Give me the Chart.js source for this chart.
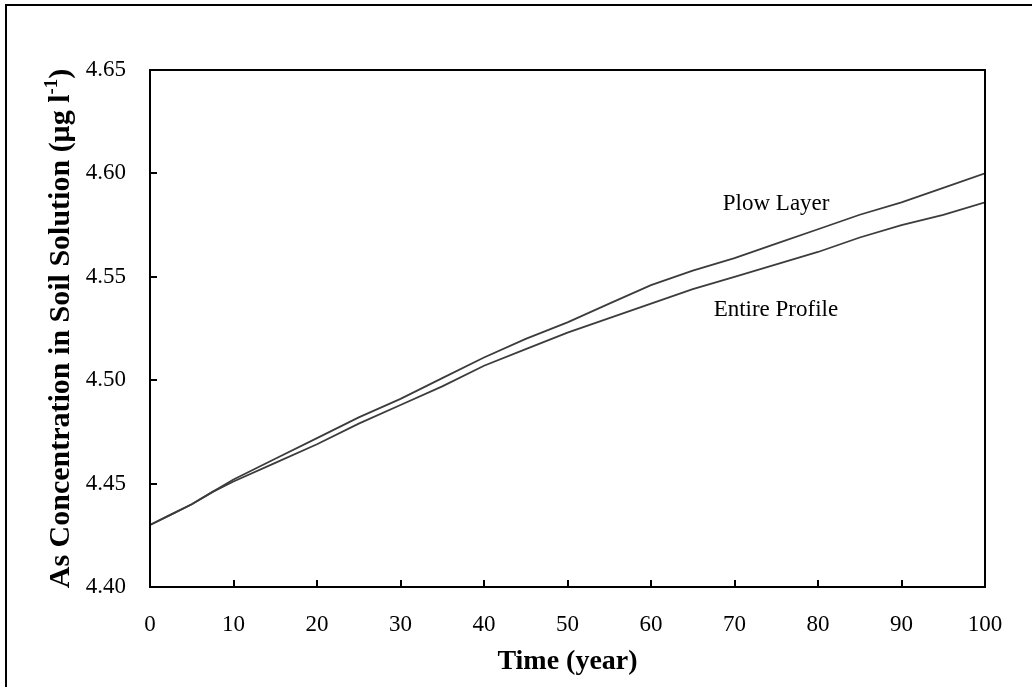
<!DOCTYPE html>
<html>
<head>
<meta charset="utf-8">
<script src="https://cdn.jsdelivr.net/npm/chart.js@4.4.1/dist/chart.umd.min.js"></script>
<style>
body { margin: 0; background: #fff; }
canvas { display: block; }
</style>
</head>
<body>
<canvas id="chart-wrapper" width="1032" height="687"></canvas>
<script>
// values
const years = [0, 2.5, 5, 7.5, 10, 15, 20, 25, 30, 35, 40, 45, 50, 55, 60, 65, 70, 75, 80, 85, 90, 95, 100];
const plowLayer = [4.430, 4.435, 4.440, 4.446, 4.452, 4.462, 4.472, 4.482, 4.491, 4.501, 4.511, 4.520, 4.528, 4.537, 4.546, 4.553, 4.559, 4.566, 4.573, 4.580, 4.586, 4.593, 4.600];
const entireProfile = [4.430, 4.435, 4.440, 4.446, 4.451, 4.460, 4.469, 4.479, 4.488, 4.497, 4.507, 4.515, 4.523, 4.530, 4.537, 4.544, 4.550, 4.556, 4.562, 4.569, 4.575, 4.580, 4.586];
const xTicks = [0, 10, 20, 30, 40, 50, 60, 70, 80, 90, 100];
const yTicks = [4.40, 4.45, 4.50, 4.55, 4.60, 4.65];
const seriesNames = ['Plow Layer', 'Entire Profile'];

// where the two curve labels sit (data coords)
const labelSpots = [
    { text: seriesNames[0], x: 68.6, y: 4.5823 },
    { text: seriesNames[1], x: 67.5, y: 4.531 }
];

Chart.defaults.font.family = 'Liberation Serif';
Chart.defaults.color = '#000';

const frame = {
    id: 'frame',
    beforeDraw: (chart) => {
        const { ctx } = chart;
        ctx.save();
        ctx.fillStyle = '#fff';
        ctx.fillRect(0, 0, chart.width, chart.height);
        ctx.restore();
    },
    afterDraw: (chart) => {
        const { ctx, chartArea: a, scales } = chart;
        const x = scales.x, y = scales.y;
        ctx.save();
        ctx.strokeStyle = '#000';
        ctx.lineWidth = 2;

        // plot box + inward ticks
        ctx.strokeRect(a.left, a.top, a.right - a.left, a.bottom - a.top);
        ctx.beginPath();
        xTicks.forEach(v => {
            const px = Math.round(x.getPixelForValue(v));
            ctx.moveTo(px, a.bottom);
            ctx.lineTo(px, a.bottom - 7);
        });
        yTicks.forEach(v => {
            const py = Math.round(y.getPixelForValue(v));
            ctx.moveTo(a.left, py);
            ctx.lineTo(a.left + 7, py);
        });
        ctx.stroke();

        // outer frame
        ctx.strokeRect(6, 5, 1200, 1000);

        // curve labels
        ctx.fillStyle = '#000';
        ctx.font = '23px "Liberation Serif"';
        ctx.textAlign = 'left';
        ctx.textBaseline = 'alphabetic';
        labelSpots.forEach(l => {
            ctx.fillText(l.text, x.getPixelForValue(l.x), y.getPixelForValue(l.y));
        });

        // y title with superscript
        const big = 'bold 30px "Liberation Serif"';
        const small = 'bold 19px "Liberation Serif"';
        const part1 = 'As Concentration in Soil Solution (\u03bcg l';
        const sup = '-1';
        const part2 = ')';
        ctx.font = big;
        const w1 = ctx.measureText(part1).width;
        const w3 = ctx.measureText(part2).width;
        ctx.font = small;
        const w2 = ctx.measureText(sup).width;
        const total = w1 + w2 + w3;
        ctx.translate(69, (a.top + a.bottom) / 2);
        ctx.rotate(-Math.PI / 2);
        let cx = -total / 2;
        ctx.font = big;
        ctx.fillText(part1, cx, 0);
        cx += w1;
        ctx.font = small;
        ctx.fillText(sup, cx, -12);
        cx += w2;
        ctx.font = big;
        ctx.fillText(part2, cx, 0);
        ctx.restore();
    }
};

const ctx = document.getElementById('chart-wrapper');
const myChart = new Chart(ctx, {
    type: 'line',
    data: {
        datasets: [{
            label: seriesNames[0],
            data: years.map((t, i) => ({ x: t, y: plowLayer[i] })),
            borderColor: '#3c3c3c',
            borderWidth: 1.8,
            pointRadius: 0,
            tension: 0,
        }, {
            label: seriesNames[1],
            data: years.map((t, i) => ({ x: t, y: entireProfile[i] })),
            borderColor: '#3c3c3c',
            borderWidth: 1.8,
            pointRadius: 0,
            tension: 0,
        }],
    },
    options: {
        responsive: false,
        animation: false,
        devicePixelRatio: 1,
        layout: { padding: { left: 0, top: 70, right: 47, bottom: 0 } },
        plugins: {
            legend: { display: false },
            tooltip: { enabled: false },
        },
        scales: {
            x: {
                type: 'linear',
                min: 0,
                max: 100,
                afterBuildTicks: s => { s.ticks = xTicks.map(v => ({ value: v })); },
                afterFit: s => { s.height = 100; },
                grid: { display: false, drawTicks: false },
                border: { display: false },
                ticks: { font: { size: 23 }, padding: 24, maxRotation: 0 },
                title: {
                    display: true,
                    text: 'Time (year)',
                    font: { size: 28, weight: 'bold' },
                    padding: { top: 0, bottom: 8 },
                },
            },
            y: {
                min: 4.40,
                max: 4.65,
                afterBuildTicks: s => { s.ticks = yTicks.map(v => ({ value: v })); },
                afterFit: s => { s.width = 150; },
                grid: { display: false, drawTicks: false },
                border: { display: false },
                ticks: { font: { size: 23 }, padding: 24, callback: v => v.toFixed(2) },
            },
        },
    },
    plugins: [frame],
});
</script>
</body>
</html>
